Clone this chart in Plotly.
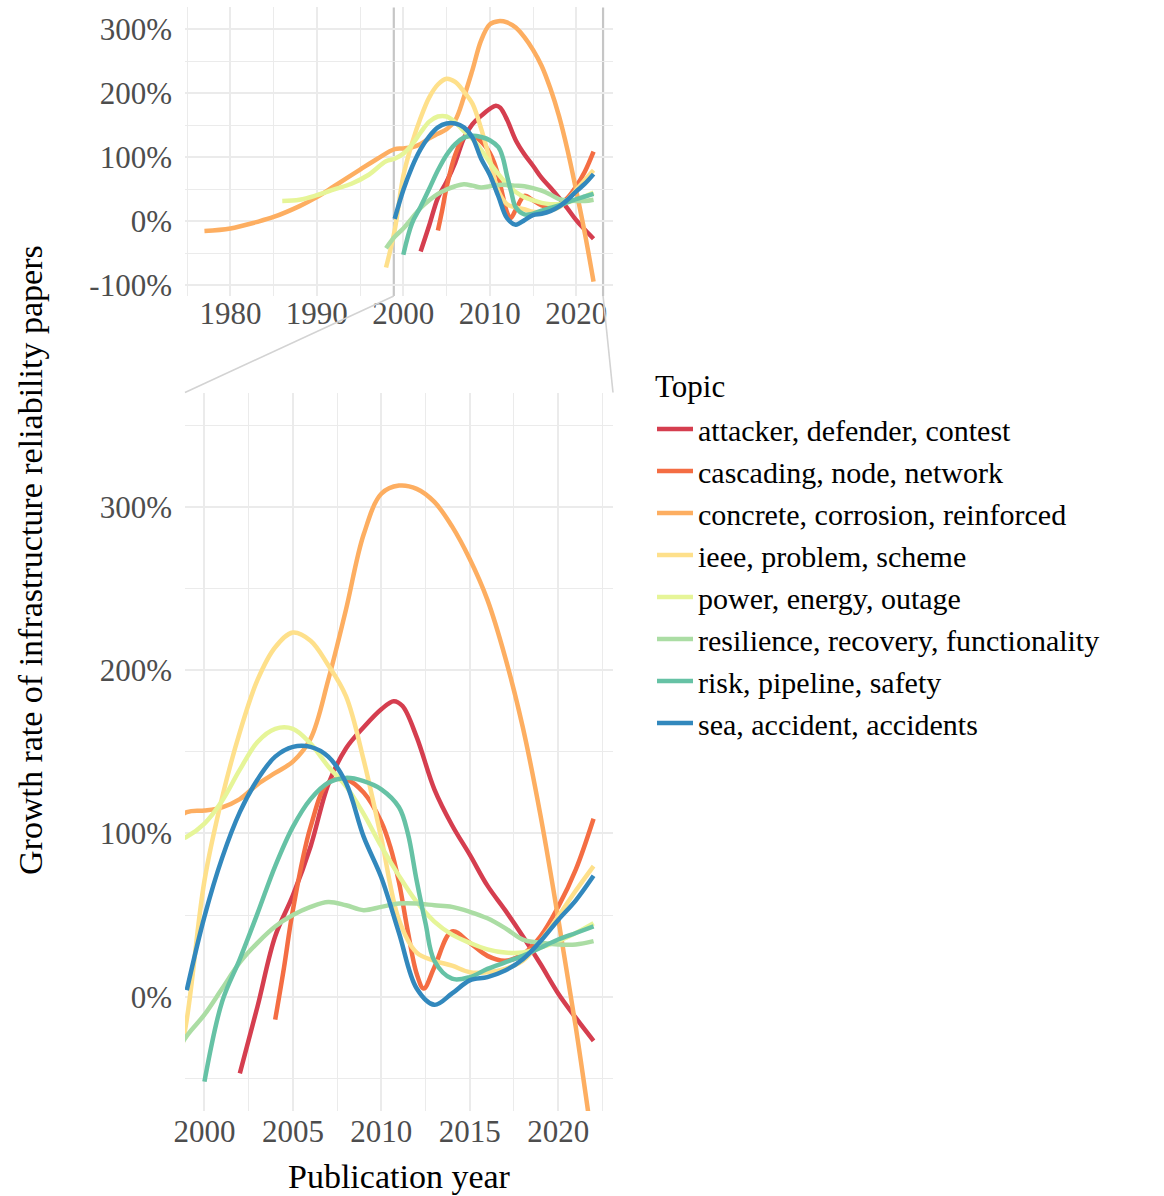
import plotly.graph_objects as go

# Topics and their colours (Spectral palette)
topics = [
    "attacker, defender, contest",
    "cascading, node, network",
    "concrete, corrosion, reinforced",
    "ieee, problem, scheme",
    "power, energy, outage",
    "resilience, recovery, functionality",
    "risk, pipeline, safety",
    "sea, accident, accidents",
]
topic_colors = ["#D53E4F", "#F46D43", "#FDAE61", "#FEE08B",
                "#E6F598", "#ABDDA4", "#66C2A5", "#3288BD"]

# Smoothed growth rate (%) of papers per topic, by publication year
attacker_years = [2002, 2003, 2004, 2005, 2006, 2007, 2008, 2009, 2010, 2010.7, 2011.2,
                  2012, 2013, 2014, 2015, 2016, 2017, 2018, 2019, 2020, 2021, 2022]
attacker_growth = [-47, -6, 37, 62, 92, 130, 152, 165, 176, 181, 178,
                   159, 127, 105, 87, 68, 53, 37, 20, 2, -13, -27]

cascading_years = [2004, 2004.5, 2005, 2006, 2007, 2008, 2009, 2010, 2010.5, 2011, 2011.5,
                   2012, 2012.4, 2013, 2014, 2015, 2016, 2017, 2018, 2019, 2020, 2021, 2022]
cascading_growth = [-14, 18, 53, 104, 131, 133, 125, 107, 92, 70, 40,
                    14, 5, 18, 40, 33, 25, 22, 26, 37, 55, 78, 109]

concrete_years = [1977, 1980, 1983, 1985, 1988, 1990, 1992, 1995, 1997, 1999, 2000,
                  2001, 2002, 2003, 2004, 2005, 2006, 2007, 2008, 2009, 2010, 2011,
                  2012, 2013, 2014, 2015, 2016, 2017, 2018, 2019, 2020, 2021, 2022]
concrete_growth = [-15, -11, -1, 7, 24, 38, 55, 81, 98, 113, 114,
                   116, 121, 130, 137, 144, 158, 194, 237, 283, 308, 313,
                   311, 303, 288, 268, 243, 208, 165, 111, 48, -19, -94]

ieee_years = [1998, 1999, 2000, 2001, 2002, 2003, 2004, 2005, 2006, 2007, 2008, 2009,
              2010, 2011, 2012, 2013, 2014, 2015, 2016, 2017, 2018, 2019, 2020, 2021, 2022]
ieee_growth = [-72, -14, 71, 122, 162, 194, 214, 223, 218, 203, 184, 145,
               97, 47, 27, 22, 19, 15, 15, 17, 22, 34, 49, 65, 80]

power_years = [1986, 1988, 1990, 1992, 1994, 1996, 1998, 1999, 2000, 2001, 2002, 2003,
               2004, 2005, 2006, 2007, 2008, 2009, 2010, 2011, 2012, 2013, 2014, 2015,
               2016, 2017, 2018, 2019, 2020, 2021, 2022]
power_growth = [32, 34, 41, 50, 59, 73, 94, 98, 106, 120, 139, 156,
                164, 164, 155, 141, 129, 112, 92, 74, 58, 46, 38, 33,
                29, 27, 27, 30, 34, 39, 45]

resilience_years = [1998, 1999, 2000, 2001, 2002, 2003, 2004, 2005, 2006, 2007, 2008, 2009,
                    2010, 2011, 2012, 2013, 2014, 2015, 2016, 2017, 2018, 2019, 2020, 2021, 2022]
resilience_growth = [-42, -24, -11, 5, 21, 33, 43, 50, 55, 58, 56, 53,
                     55, 57, 57, 56, 55, 52, 48, 42, 35, 33, 32, 32, 34]

risk_years = [2000, 2001, 2002, 2003, 2004, 2005, 2006, 2007, 2008, 2009, 2010, 2011,
              2011.5, 2012, 2012.5, 2013, 2014, 2015, 2016, 2017, 2018, 2019, 2020, 2021, 2022]
risk_growth = [-52, -3, 23, 51, 80, 104, 121, 131, 134, 132, 127, 116,
               100, 71, 45, 22, 11, 12, 17, 21, 25, 30, 35, 39, 43]

sea_years = [1999, 2000, 2001, 2002, 2003, 2004, 2005, 2006, 2007, 2008, 2009, 2010,
             2011, 2012, 2013, 2014, 2015, 2016, 2017, 2018, 2019, 2020, 2021, 2022]
sea_growth = [4, 49, 85, 113, 133, 147, 153, 153, 147, 131, 98, 73,
              39, 5, -5, 2, 10, 12, 16, 23, 34, 47, 59, 74]

# Axis ticks
overview_xticks = [1980, 1990, 2000, 2010, 2020]
overview_yticks = [-100, 0, 100, 200, 300]
overview_ylabels = ["-100%", "0%", "100%", "200%", "300%"]
zoom_xticks = [2000, 2005, 2010, 2015, 2020]
zoom_yticks = [0, 100, 200, 300]
zoom_ylabels = ["0%", "100%", "200%", "300%"]

series_years = [attacker_years, cascading_years, concrete_years, ieee_years,
                power_years, resilience_years, risk_years, sea_years]
series_growth = [attacker_growth, cascading_growth, concrete_growth, ieee_growth,
                 power_growth, resilience_growth, risk_growth, sea_growth]

# ---- layout geometry (pixels) ----
W, H = 1164, 1196
PX0, PX1 = 185, 613            # both panels share horizontal extent
TOP_Y0, TOP_Y1 = 7.4, 296      # overview panel
BOT_Y0, BOT_Y1 = 392.5, 1111   # zoomed panel

overview_xrange = [1974.75, 2024.25]
overview_yrange = [-116.5, 334.5]
zoom_xrange = [1998.9, 2023.1]
zoom_yrange = [-70, 370]

def fx(px):
    return px / W

def fy(py):
    return 1 - py / H

FONT = "Liberation Serif"
TICK_FONT = dict(family=FONT, size=31, color="#4d4d4d")
GRID = "#ebebeb"

fig = go.Figure()
for name, color, yrs, vals in zip(topics, topic_colors, series_years, series_growth):
    line = dict(color=color, width=4.5, shape="spline", smoothing=1.0)
    fig.add_trace(go.Scatter(x=yrs, y=vals, mode="lines", line=line, name=name,
                             legendgroup=name, showlegend=False,
                             xaxis="x", yaxis="y", hoverinfo="skip"))
    fig.add_trace(go.Scatter(x=yrs, y=vals, mode="lines", line=line, name=name,
                             legendgroup=name, showlegend=True,
                             xaxis="x2", yaxis="y2", hoverinfo="skip"))

axis_common = dict(showline=False, zeroline=False, ticks="", showgrid=True,
                   gridcolor=GRID, gridwidth=2, tickfont=TICK_FONT, fixedrange=True,
                   automargin=False)

fig.update_layout(
    width=W, height=H,
    margin=dict(l=0, r=0, t=0, b=0, autoexpand=False),
    paper_bgcolor="white", plot_bgcolor="white",
    font=dict(family=FONT, size=31, color="black"),
    xaxis=dict(domain=[fx(PX0), fx(PX1)], range=overview_xrange, anchor="y",
               tickmode="array", tickvals=overview_xticks, ticklabelstandoff=-4,
               minor=dict(tick0=1975, dtick=5, showgrid=True, gridcolor=GRID, gridwidth=1),
               **axis_common),
    yaxis=dict(domain=[fy(TOP_Y1), fy(TOP_Y0)], range=overview_yrange, anchor="x",
               tickmode="array", tickvals=overview_yticks, ticktext=overview_ylabels,
               ticklabelstandoff=12,
               minor=dict(tick0=-50, dtick=100, showgrid=True, gridcolor=GRID, gridwidth=1),
               **axis_common),
    xaxis2=dict(domain=[fx(PX0), fx(PX1)], range=zoom_xrange, anchor="y2",
                tickmode="array", tickvals=zoom_xticks, ticklabelstandoff=-1,
                minor=dict(tick0=1997.5, dtick=5, showgrid=True, gridcolor=GRID, gridwidth=1),
                **axis_common),
    yaxis2=dict(domain=[fy(BOT_Y1), fy(BOT_Y0)], range=zoom_yrange, anchor="x2",
                tickmode="array", tickvals=zoom_yticks, ticktext=zoom_ylabels,
                ticklabelstandoff=12,
                minor=dict(tick0=-50, dtick=100, showgrid=True, gridcolor=GRID, gridwidth=1),
                **axis_common),
    legend=dict(x=fx(652), y=fy(403), xanchor="left", yanchor="top",
                font=dict(family=FONT, size=30, color="black"),
                bgcolor="rgba(0,0,0,0)", itemwidth=36, tracegroupgap=0),
)

# zoom window marked on the overview panel
ZOOM_EDGE = "#c6c6c6"
for xv in zoom_xrange:
    fig.add_shape(type="line", xref="x", yref="paper", x0=xv, x1=xv,
                  y0=fy(TOP_Y1), y1=fy(TOP_Y0),
                  line=dict(color=ZOOM_EDGE, width=2.2), layer="below")

# connectors from the zoom window to the zoomed panel
def overview_px(xv):
    r0, r1 = overview_xrange
    return PX0 + (xv - r0) / (r1 - r0) * (PX1 - PX0)

for xv, bx in zip(zoom_xrange, [PX0, PX1]):
    fig.add_shape(type="line", xref="paper", yref="paper",
                  x0=fx(overview_px(xv)), y0=fy(TOP_Y1), x1=fx(bx), y1=fy(BOT_Y0),
                  line=dict(color="#d3d3d3", width=1.6))

# legend heading and axis titles
fig.add_annotation(text="Topic", xref="paper", yref="paper",
                   x=fx(653), y=fy(387), xanchor="left", yanchor="middle",
                   showarrow=False, font=dict(family=FONT, size=31, color="black"))
fig.add_annotation(text="Publication year", xref="paper", yref="paper",
                   x=fx((PX0 + PX1) / 2), y=fy(1176), xanchor="center", yanchor="middle",
                   showarrow=False, font=dict(family=FONT, size=34, color="black"))
fig.add_annotation(text="Growth rate of infrastructure reliability papers",
                   xref="paper", yref="paper", x=fx(30), y=fy(560),
                   xanchor="center", yanchor="middle", textangle=-90,
                   showarrow=False, font=dict(family=FONT, size=34, color="black"))

fig.write_html("out.html")
